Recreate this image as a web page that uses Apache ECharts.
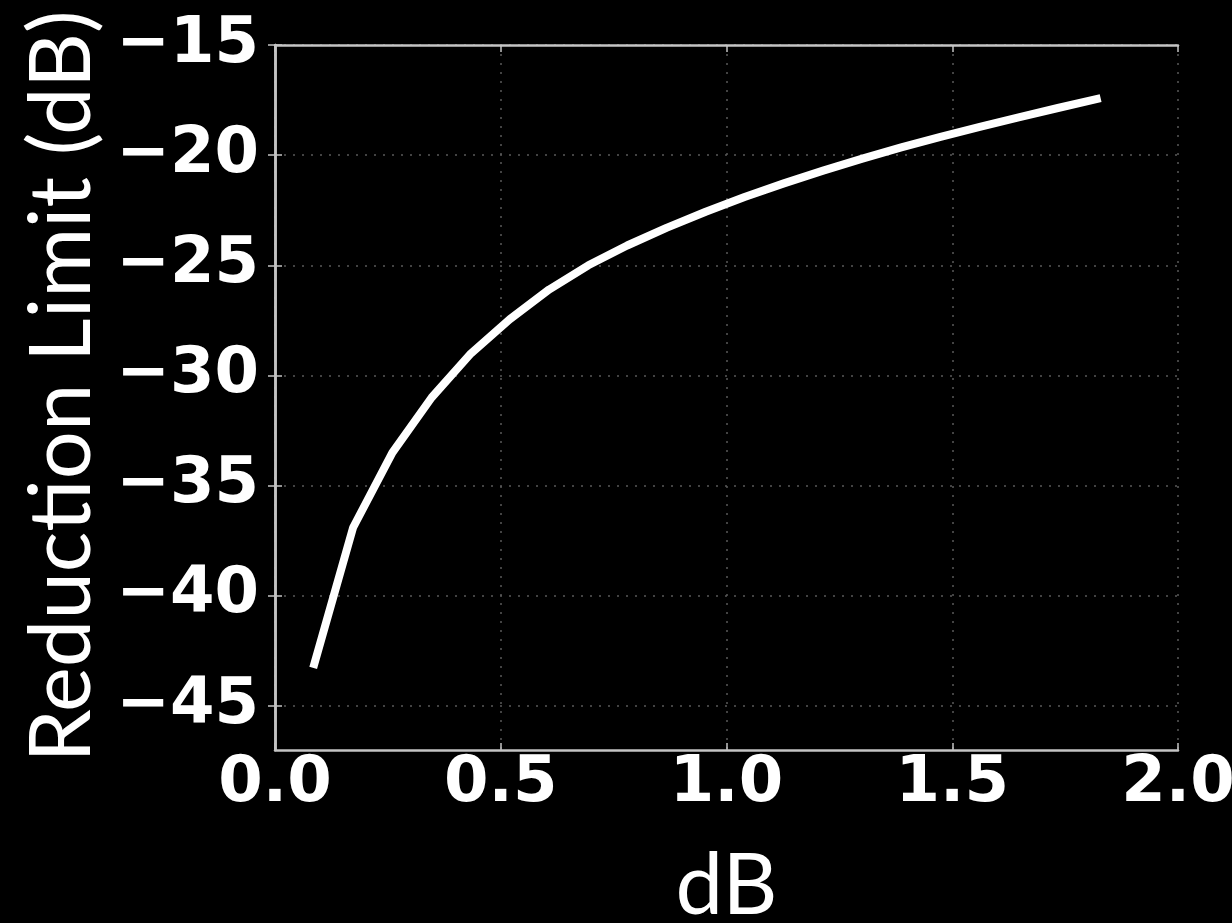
<!DOCTYPE html>
<html>
<head>
<meta charset="utf-8">
<script src="https://cdn.jsdelivr.net/npm/echarts@6/dist/echarts.min.js"></script>
<style>
html,body{margin:0;padding:0;background:#000;}
#c{width:1232px;height:923px;}
</style>
</head>
<body>
<div id="c"></div>
<script>
// Data
const xValues = [0.087, 0.173, 0.260, 0.347, 0.434, 0.520, 0.607, 0.694, 0.780, 0.867, 0.954,
                 1.040, 1.127, 1.214, 1.301, 1.387, 1.474, 1.561, 1.647, 1.734, 1.820];
const yValues = [-43.1, -36.9, -33.5, -31.0, -29.0, -27.45, -26.1, -25.0, -24.1, -23.3, -22.57,
                 -21.9, -21.28, -20.7, -20.16, -19.65, -19.17, -18.72, -18.29, -17.86, -17.45];
const xTicks = [0.0, 0.5, 1.0, 1.5, 2.0];
const yTicks = [-45, -40, -35, -30, -25, -20, -15];
const xTitle = 'dB';
const yTitle = 'Reduction Limit (dB)';

const seriesData = xValues.map((x, i) => [x, yValues[i]]);

const frameColor = '#c4c4c4';
const gridColor = '#5a5a5a';
const labelFont = {color: '#ffffff', fontFamily: 'DejaVu Sans', fontWeight: 'bold', fontSize: 64};
const titleFont = {color: '#ffffff', fontFamily: 'Lato', fontWeight: 'normal', fontSize: 85};

const chart = echarts.init(document.getElementById('c'), null, {renderer: 'canvas'});
chart.setOption({
  backgroundColor: '#000000',
  animation: false,
  grid: {left: 275, top: 45, right: 54, bottom: 173, containLabel: false, outerBoundsMode: 'none'},
  xAxis: [{
    type: 'value', position: 'bottom', min: 0, max: 2, interval: 0.5,
    name: xTitle, nameLocation: 'middle', nameGap: 94,
    nameTextStyle: titleFont,
    axisLine: {show: true, lineStyle: {color: frameColor, width: 2.5}},
    axisTick: {show: true, inside: true, length: 7, customValues: xTicks, lineStyle: {color: frameColor, width: 1.5}},
    axisLabel: Object.assign({margin: 2, customValues: xTicks, formatter: v => v.toFixed(1)}, labelFont),
    splitLine: {show: true, lineStyle: {color: gridColor, width: 1.5, type: [2, 7]}}
  }, {
    type: 'value', position: 'top', min: 0, max: 2, interval: 0.5,
    axisLine: {show: true, lineStyle: {color: frameColor, width: 2.5}},
    axisTick: {show: true, inside: true, length: 7, lineStyle: {color: frameColor, width: 1.5}},
    axisLabel: {show: false},
    splitLine: {show: false}
  }],
  yAxis: [{
    type: 'value', position: 'left', min: -47, max: -15,
    name: yTitle, nameLocation: 'middle', nameGap: 166,
    nameTextStyle: Object.assign({padding: [0, 0, 0, 22]}, titleFont),
    axisLine: {show: true, lineStyle: {color: frameColor, width: 2.5}},
    axisTick: {show: true, inside: true, length: 7, customValues: yTicks, lineStyle: {color: frameColor, width: 1.5}},
    axisLabel: Object.assign({margin: 16, customValues: yTicks, formatter: v => String(v).replace('-', '\u2212')}, labelFont),
    splitLine: {show: true, lineStyle: {color: gridColor, width: 1.5, type: [2, 7]}}
  }, {
    type: 'value', position: 'right', min: -47, max: -15,
    axisLine: {show: true, lineStyle: {color: frameColor, width: 2.5}},
    axisTick: {show: true, inside: true, length: 7, customValues: yTicks, lineStyle: {color: frameColor, width: 1.5}},
    axisLabel: {show: false},
    splitLine: {show: false}
  }],
  series: [{
    type: 'line',
    xAxisIndex: 0, yAxisIndex: 0,
    data: seriesData,
    showSymbol: false,
    smooth: false,
    lineStyle: {color: '#ffffff', width: 8, cap: 'square', join: 'round'}
  }]
});
</script>
</body>
</html>
